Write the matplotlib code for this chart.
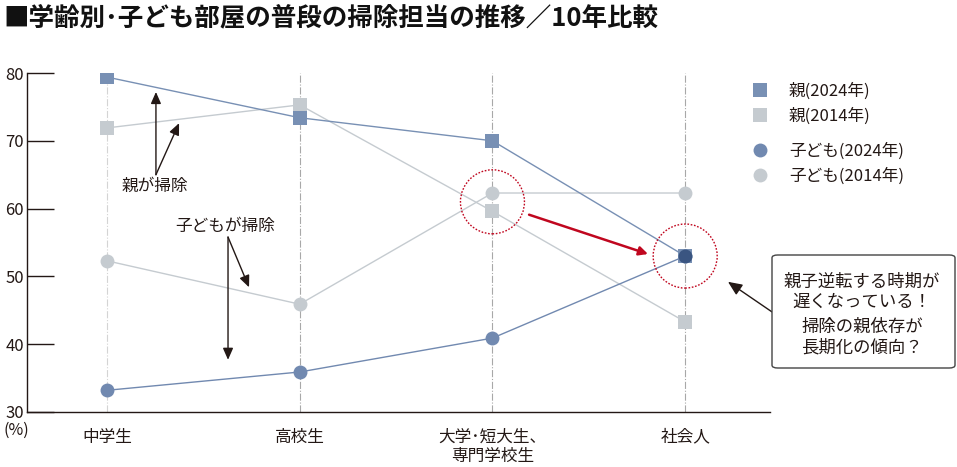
import numpy as np
import matplotlib.pyplot as plt
from matplotlib.lines import Line2D
from matplotlib.patches import Ellipse, FancyBboxPatch

plt.rcParams['font.family'] = ['Noto Sans CJK JP', 'DejaVu Sans']

# data (%)
categories = ['中学生', '高校生', '大学･短大生、\n専門学校生', '社会人']
oya_2024 = [79.4, 73.4, 70.0, 53.0]
oya_2014 = [71.9, 75.3, 59.6, 43.3]
ko_2024 = [33.2, 35.9, 40.9, 53.0]
ko_2014 = [52.3, 45.9, 62.3, 62.3]
yticks = [30, 40, 50, 60, 70, 80]

c_oya24 = '#7890b4'
c_ko24 = '#7189b0'
c_14 = '#c5cbd0'
c_dark = '#3a5581'
c_red = '#c0071f'
c_txt = '#231815'

fig = plt.figure(figsize=(9.57, 4.67), dpi=100)
ax = fig.add_axes([27 / 957, 1 - 412 / 467, 743 / 957, 339 / 467])

x = np.arange(len(categories))

# vertical guides
for i in x:
    col = '#d4d4d4' if i == 0 else '#a8a8a8'
    ax.axvline(i, color=col, lw=0.8, ls='-.', zorder=0)

# 2014 series (behind)
ax.plot(x, oya_2014, color=c_14, lw=1, marker='s', ms=10, mew=0, zorder=2)
ax.plot(x, ko_2014, color=c_14, lw=1, marker='o', ms=10, mew=0, zorder=2)
# 2024 series
ax.plot(x, oya_2024, color=c_oya24, lw=1, marker='s', ms=10, mew=0, zorder=3)
ax.plot(x, ko_2024, color=c_ko24, lw=1, marker='o', ms=10, mew=0, zorder=3)

# where parents and children overlap in 2024
same = np.isclose(oya_2024, ko_2024)
ax.plot(x[same], np.array(ko_2024)[same], ls='none', marker='o', ms=10,
        mew=0, color=c_dark, zorder=4)

ax.set_xlim(-0.415, 3.44)
ax.set_ylim(30, 80)
ax.set_yticks(yticks)
ax.set_xticks(x)
ax.set_xticklabels(categories, fontsize=12, va='top', linespacing=1.2)
ax.tick_params(axis='x', length=0, pad=12, colors=c_txt)
ax.tick_params(axis='y', direction='in', length=19.5, width=1, pad=2,
               labelsize=12, colors=c_txt)
for s in ['top', 'right']:
    ax.spines[s].set_visible(False)
for s in ['left', 'bottom']:
    ax.spines[s].set_color(c_txt)
    ax.spines[s].set_linewidth(1)

fig.text(16 / 957, 1 - 430 / 467, '(%)', fontsize=11.5, ha='center',
         va='center', color=c_txt)

# red dotted circles and arrow
for cx, cy in [(2, 61.0), (3, 53.0)]:
    ax.add_patch(Ellipse((cx, cy), 0.332, 9.44, fill=False, ec=c_red,
                         lw=1, ls=(0, (1.2, 1.2)), zorder=5))
ax.annotate('', xy=(2.807, 53.3), xytext=(2.19, 59.1),
            arrowprops=dict(arrowstyle='-|>', color=c_red, lw=1.8,
                            mutation_scale=13, shrinkA=0, shrinkB=0))

# annotations
arrow_k = dict(arrowstyle='-|>,head_length=0.5,head_width=0.22',
               color=c_txt, lw=1, mutation_scale=14, shrinkA=0, shrinkB=0)
ax.text(0.249, 63.3, '親が掃除', fontsize=12, ha='center', va='center',
        color=c_txt)
ax.annotate('', xy=(0.254, 77.2), xytext=(0.254, 65.0), arrowprops=arrow_k)
ax.annotate('', xy=(0.374, 72.6), xytext=(0.254, 65.0), arrowprops=arrow_k)
ax.text(0.612, 57.3, '子どもが掃除', fontsize=12, ha='center', va='center',
        color=c_txt)
ax.annotate('', xy=(0.628, 37.7), xytext=(0.628, 55.8), arrowprops=arrow_k)
ax.annotate('', xy=(0.737, 48.4), xytext=(0.628, 55.8), arrowprops=arrow_k)
ax.annotate('', xy=(3.222, 49.2), xytext=(3.451, 44.75),
            arrowprops=dict(arrow_k, mutation_scale=17),
            annotation_clip=False)

# callout box
box = FancyBboxPatch((772 / 957, 1 - 368 / 467), 183 / 957, 113 / 467,
                     boxstyle='round,pad=0,rounding_size=0.006',
                     transform=fig.transFigure, fc='white', ec='#444444',
                     lw=1)
fig.patches.append(box)
for txt, py in [('親子逆転する時期が', 282), ('遅くなっている！', 302),
                ('掃除の親依存が', 327), ('長期化の傾向？', 347)]:
    fig.text(862 / 957, 1 - py / 467, txt, fontsize=12.5, ha='center',
             va='center', color=c_txt)

# legends
sq_handles = [Line2D([], [], ls='none', marker='s', ms=10, mew=0, color=c_oya24),
              Line2D([], [], ls='none', marker='s', ms=10, mew=0, color=c_14)]
ci_handles = [Line2D([], [], ls='none', marker='o', ms=10, mew=0, color=c_ko24),
              Line2D([], [], ls='none', marker='o', ms=10, mew=0, color=c_14)]
leg_kw = dict(loc='upper left', frameon=False, fontsize=12, borderpad=0,
              borderaxespad=0, handlelength=1.3, handletextpad=1.1,
              labelspacing=0.45)
for t in fig.legend(sq_handles, ['親(2024年)', '親(2014年)'],
                    bbox_to_anchor=(749 / 957, 1 - 83 / 467),
                    **leg_kw).get_texts():
    t.set_color(c_txt)
for t in fig.legend(ci_handles, ['子ども(2024年)', '子ども(2014年)'],
                    bbox_to_anchor=(749 / 957, 1 - 143 / 467),
                    **leg_kw).get_texts():
    t.set_color(c_txt)

fig.text(3 / 957, 1 - 18 / 467, '■学齢別･子ども部屋の普段の掃除担当の推移／10年比較',
         fontsize=18.4, fontweight='bold', ha='left', va='center',
         color='#111111')

fig.savefig('out.png', dpi=100)
